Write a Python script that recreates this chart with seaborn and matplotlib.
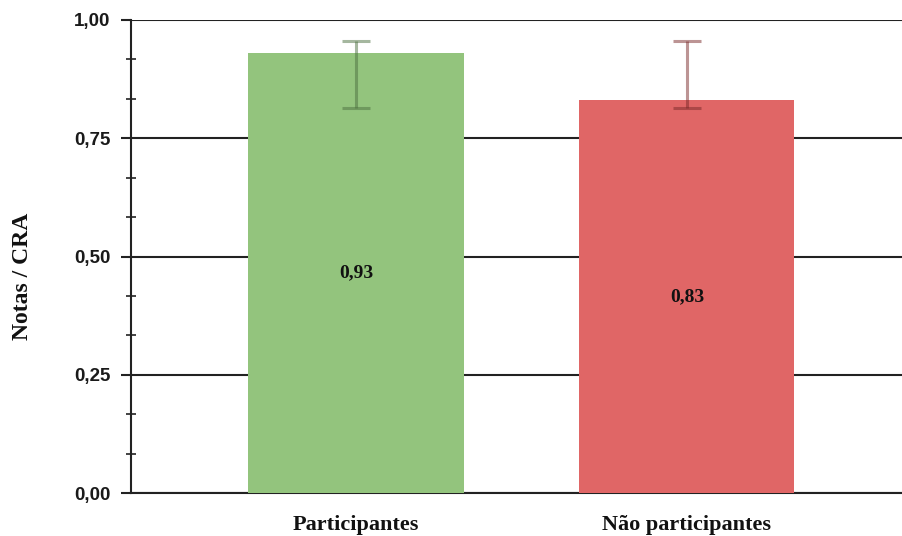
import matplotlib
matplotlib.use("Agg")
import matplotlib.pyplot as plt
import numpy as np
import pandas as pd
import seaborn as sns
from matplotlib.ticker import FixedLocator, MultipleLocator, FuncFormatter

# dados
grupos = ["Participantes", "Não participantes"]
medias = [0.93, 0.83]
erro_inf = [0.813, 0.815]
erro_sup = [0.955, 0.955]
cores = ["#93C47D", "#E06666"]
cores_erro = ["#4d7040", "#7a2a2a"]

sns.set_style("white")

df = pd.DataFrame({"grupo": grupos, "media": medias})

fig = plt.figure(figsize=(9.02, 5.36), dpi=100)
ax = fig.add_axes([0.1452, 0.0802, 0.8548, 0.8825])

sns.barplot(data=df, x="grupo", y="media", hue="grupo", palette=cores,
            errorbar=None, width=0.65, legend=False, ax=ax, zorder=3,
            saturation=1, linewidth=0)

# barras de erro + rótulos de valor
for i, (m, lo, hi) in enumerate(zip(medias, erro_inf, erro_sup)):
    ax.errorbar(i, m, yerr=[[m - lo], [hi - m]], fmt="none",
                ecolor=cores_erro[i], alpha=0.5, elinewidth=2.2,
                capsize=10, capthick=2.2, zorder=4)
    ax.text(i, m / 2, f"{m:.2f}".replace(".", ","), ha="center", va="center",
            fontsize=14, fontweight="bold", family="Liberation Serif",
            color="#111111", zorder=5)

ax.set_xlim(-0.68, 1.65)
ax.set_ylim(0, 1.0)
ax.yaxis.set_major_locator(MultipleLocator(0.25))
ax.yaxis.set_minor_locator(FixedLocator([k / 12 for k in range(13) if k % 3]))
ax.yaxis.set_major_formatter(FuncFormatter(lambda v, p: f"{v:.2f}".replace(".", ",")))

ax.grid(axis="y", which="major", color="#222222", linewidth=1.5, zorder=1)
ax.grid(axis="x", visible=False)

for s in ["top", "right"]:
    ax.spines[s].set_visible(False)
ax.spines["left"].set_color("#222222")
ax.spines["left"].set_linewidth(1.5)
ax.spines["bottom"].set_color("#222222")
ax.spines["bottom"].set_linewidth(1.5)
ax.spines["left"].set_zorder(6)

ax.tick_params(axis="y", which="major", direction="out", length=7, width=1.5,
               color="#222222", left=True, pad=8)
ax.tick_params(axis="y", which="minor", direction="inout", length=7, width=1.2,
               color="#222222", left=True)
ax.tick_params(axis="x", length=0, pad=16)

for lab in ax.get_yticklabels():
    lab.set_family("Liberation Sans")
    lab.set_fontweight("bold")
    lab.set_fontsize(13.5)
    lab.set_color("#1a1a1a")
for lab in ax.get_xticklabels():
    lab.set_family("Liberation Serif")
    lab.set_fontweight("bold")
    lab.set_fontsize(16)
    lab.set_color("#111111")

ax.set_xlabel("")
ax.set_ylabel("Notas / CRA", family="Liberation Serif", fontweight="bold",
              fontsize=17, color="#111111")
ax.yaxis.set_label_coords(-0.127, 0.457)

fig.savefig("out.png", dpi=100)
plt.close(fig)
